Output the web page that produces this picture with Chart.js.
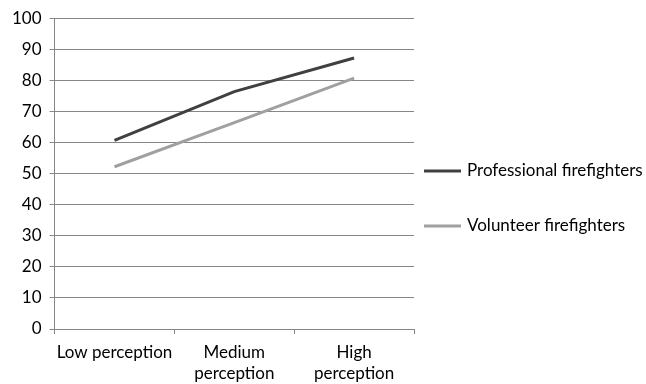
<!DOCTYPE html>
<html>
<head>
<meta charset="utf-8">
<script src="https://cdn.jsdelivr.net/npm/chart.js"></script>
<style>
  html, body { margin: 0; padding: 0; background: #fff; }
  #chart { display: block; }
</style>
</head>
<body>
<canvas id="chart" width="646" height="384"></canvas>
<script>
// Data
const categories = ['Low perception', ['Medium', 'perception'], ['High', 'perception']];
const professional = [60.7, 76.4, 87.2];
const volunteer = [52.2, 66.4, 80.7];
const yTicks = [0, 10, 20, 30, 40, 50, 60, 70, 80, 90, 100];

const FONT = 'Lato, "Open Sans", sans-serif';

// Simple legend on the right, drawn from the dataset labels
const sideLegend = {
  id: 'sideLegend',
  afterDraw(chart) {
    const ctx = chart.ctx;
    const area = chart.chartArea;
    const x0 = area.right + 10;
    const rows = [171, 226];
    ctx.save();
    ctx.font = '17px ' + FONT;
    ctx.textBaseline = 'middle';
    ctx.textAlign = 'left';
    chart.data.datasets.forEach((ds, i) => {
      ctx.strokeStyle = ds.borderColor;
      ctx.lineWidth = 3;
      ctx.beginPath();
      ctx.moveTo(x0, rows[i]);
      ctx.lineTo(x0 + 37, rows[i]);
      ctx.stroke();
      ctx.fillStyle = '#000';
      ctx.fillText(ds.label, x0 + 43, rows[i]);
    });
    ctx.restore();
  }
};

new Chart(document.getElementById('chart'), {
  type: 'line',
  data: {
    labels: categories,
    datasets: [
      {
        label: 'Professional firefighters',
        data: professional,
        borderColor: '#404040',
        backgroundColor: '#404040',
        borderWidth: 3,
        pointRadius: 0,
        tension: 0
      },
      {
        label: 'Volunteer firefighters',
        data: volunteer,
        borderColor: '#a0a0a0',
        backgroundColor: '#a0a0a0',
        borderWidth: 3,
        pointRadius: 0,
        tension: 0
      }
    ]
  },
  options: {
    responsive: false,
    animation: false,
    layout: { padding: { top: 12, right: 232, left: 4, bottom: 0 } },
    plugins: {
      legend: { display: false },
      tooltip: { enabled: false }
    },
    scales: {
      x: {
        offset: true,
        afterFit(scale) {
          scale.height = 55;
        },
        grid: {
          offset: true,
          drawOnChartArea: false,
          drawTicks: true,
          tickLength: 5,
          color: '#868686'
        },
        border: { color: '#868686' },
        ticks: {
          color: '#000',
          font: { family: FONT, size: 17, lineHeight: 1.25 },
          padding: 8,
          maxRotation: 0,
          autoSkip: false
        }
      },
      y: {
        min: 0,
        max: 100,
        afterBuildTicks(scale) {
          scale.ticks = yTicks.map(v => ({ value: v }));
        },
        grid: {
          color: '#868686',
          tickLength: 5
        },
        border: { color: '#868686' },
        ticks: {
          color: '#000',
          font: { family: FONT, size: 17 },
          padding: 8
        }
      }
    }
  },
  plugins: [sideLegend]
});
</script>
</body>
</html>
